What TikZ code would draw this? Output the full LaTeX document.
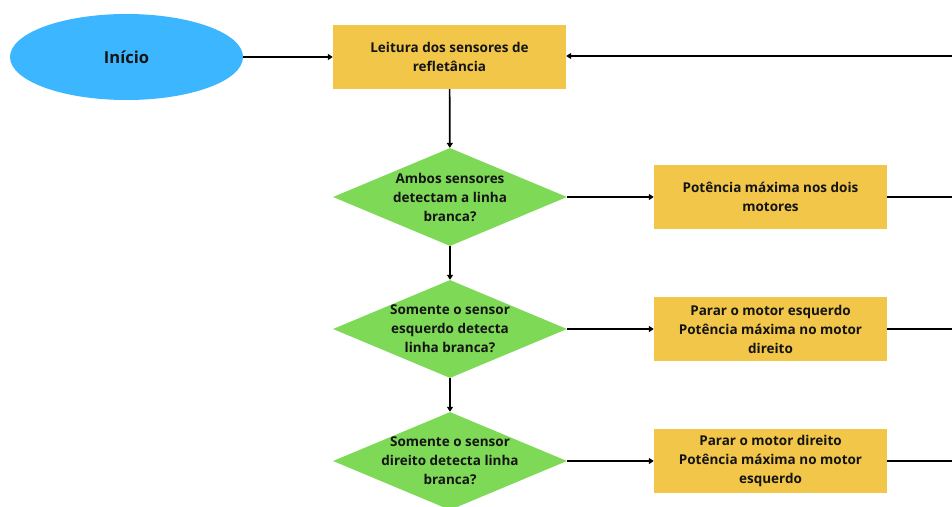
\documentclass[tikz,border=0pt]{standalone}
\usepackage{fontspec}
\setmainfont{Open Sans}
\usetikzlibrary{shapes.geometric,arrows.meta}
\definecolor{cblue}{RGB}{59,182,255}
\definecolor{cyellow}{RGB}{242,198,73}
\definecolor{cgreen}{RGB}{126,217,87}
\definecolor{ctext}{RGB}{20,20,20}
\begin{document}
\begin{tikzpicture}[x=1pt,y=-1pt,
  txt/.style={font=\bfseries\fontsize{13.5}{19}\selectfont,text=ctext,align=center},
  startnode/.style={ellipse,fill=cblue,minimum width=233pt,minimum height=86pt,inner sep=0pt,font=\bfseries\fontsize{16.5}{19}\selectfont,text=ctext},
  procbox/.style={rectangle,fill=cyellow,minimum width=233pt,minimum height=64pt,inner sep=0pt,txt},
  decision/.style={diamond,fill=cgreen,minimum width=234pt,minimum height=98pt,inner sep=0pt,aspect=2.39},
  conn/.style={line width=1.7pt,draw=black,-{Triangle[length=5pt,width=6pt]}},
  plain/.style={line width=1.7pt,draw=black}]
\useasboundingbox (0,0) rectangle (952,506);
\node[startnode] (start) at (126.5,57) {Início};
\node[procbox] (read) at (449.5,57) {Leitura dos sensores de\\refletância};
\node[decision,label={[txt]center:Ambos sensores\\detectam a linha\\branca?}] (d1) at (450,197) {};
\node[decision,label={[txt]center:Somente o sensor\\esquerdo detecta\\linha branca?}] (d2) at (450,329) {};
\node[decision,label={[txt]center:Somente o sensor\\direito detecta linha\\branca?}] (d3) at (450,461) {};
\node[procbox] (p1) at (770.5,197) {Potência máxima nos dois\\motores};
\node[procbox] (p2) at (770.5,329) {Parar o motor esquerdo\\Potência máxima no motor\\direito};
\node[procbox] (p3) at (770.5,461) {Parar o motor direito\\Potência máxima no motor\\esquerdo};
\coordinate (r0) at (952,56);
\coordinate (r1) at (952,197);
\coordinate (r2) at (952,329);
\coordinate (r3) at (952,461);
\draw[conn] (start) -- (read);
\draw[conn] (r0) -- (read.east |- r0);
\draw[conn] (read) -- (d1);
\draw[conn] (d1) -- (d2);
\draw[conn] (d2) -- (d3);
\draw[conn] (d1) -- (p1);
\draw[conn] (d2) -- (p2);
\draw[conn] (d3) -- (p3);
\draw[plain] (p1) -- (r1);
\draw[plain] (p2) -- (r2);
\draw[plain] (p3) -- (r3);
\end{tikzpicture}
\end{document}
